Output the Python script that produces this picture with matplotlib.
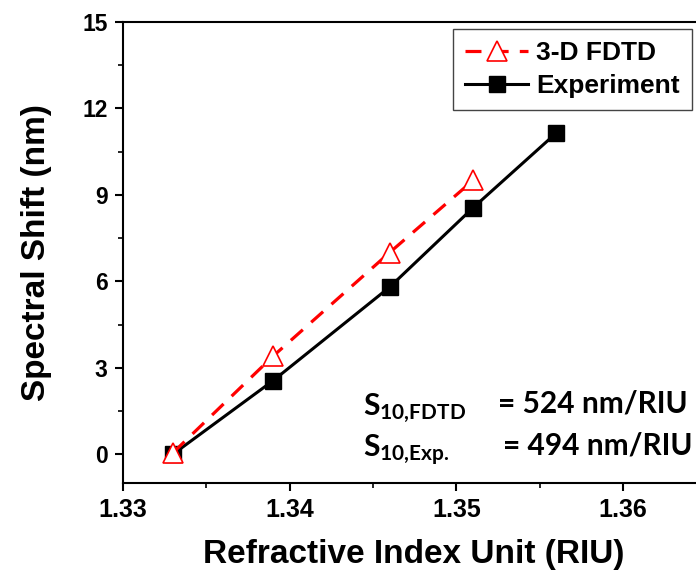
import matplotlib
matplotlib.use("Agg")
import matplotlib.pyplot as plt
from matplotlib.ticker import MultipleLocator

# refractive index of the analyte solutions
ri_exp = [1.333, 1.339, 1.346, 1.351, 1.356]
shift_exp = [0.0, 2.55, 5.8, 8.55, 11.15]

ri_fdtd = [1.333, 1.339, 1.346, 1.351]
shift_fdtd = [0.05, 3.4, 7.0, 9.5]

xticks = [1.33, 1.34, 1.35, 1.36]
yticks = [0, 3, 6, 9, 12, 15]

W, H = 696, 583
plt.rcParams['font.family'] = ['Liberation Sans', 'DejaVu Sans']
plt.rcParams['font.weight'] = 'bold'

fig = plt.figure(figsize=(W / 100, H / 100), dpi=100)
ax = fig.add_axes([123 / W, 1 - 483 / H, 1 - 123 / W, (483 - 22) / H])

l_exp, = ax.plot(ri_exp, shift_exp, color='black', lw=2.2, marker='s', ms=11.5,
                 mfc='black', mec='black', label='Experiment', zorder=3)
l_fdtd, = ax.plot(ri_fdtd, shift_fdtd, color='red', lw=2.3, dashes=(5, 3.5),
                  marker='^', ms=14, mfc='white', mec='red', mew=1.2,
                  label='3-D FDTD', zorder=4)

ax.set_xlim(1.33, 1.33 + (W - 123) / 16667)
ax.set_ylim(-1, 15)
ax.set_xticks(xticks)
ax.set_yticks(yticks)
ax.set_xticklabels(['%.2f' % v for v in xticks], fontsize=18, fontweight='bold')
ax.set_yticklabels([str(v) for v in yticks], fontsize=16.5, fontweight='bold')
ax.xaxis.set_minor_locator(MultipleLocator(0.005))
ax.yaxis.set_minor_locator(MultipleLocator(1.5))
ax.tick_params(which='major', direction='out', length=6, width=1.5, pad=5)
ax.tick_params(which='minor', direction='out', length=3.5, width=1.2)
ax.tick_params(top=False, right=False)
ax.spines['right'].set_visible(False)
for s in ['left', 'bottom', 'top']:
    ax.spines[s].set_linewidth(1.5)

fig.text(37 / W, 1 - 253 / H, 'Spectral Shift (nm)', rotation=90,
         ha='center', va='center', fontsize=24, fontweight='bold')
fig.text(414 / W, 1 - 555 / H, 'Refractive Index Unit (RIU)',
         ha='center', va='center', fontsize=24, fontweight='bold')

leg = ax.legend(handles=[l_fdtd, l_exp], loc='upper left',
                bbox_to_anchor=(453 / W, 1 - 29 / H), bbox_transform=fig.transFigure,
                borderaxespad=0, borderpad=0.45, handlelength=2.4, handletextpad=0.3,
                labelspacing=0.35, fancybox=False, framealpha=1,
                prop={'family': 'Liberation Sans', 'weight': 'bold', 'size': 19})
leg.get_frame().set_edgecolor('#444444')
leg.get_frame().set_linewidth(1.0)

# sensitivity annotation
afont = dict(family=['Lato', 'DejaVu Sans'], weight='bold', fontsize=21.5)
fig.text(363 / W, 1 - 415 / H, r'$\mathregular{S_{10{,}FDTD}}$', va='baseline', **afont)
fig.text(498 / W, 1 - 413 / H, '= 524 nm/RIU', va='baseline', **afont)
fig.text(363 / W, 1 - 457 / H, r'$\mathregular{S_{10{,}Exp.}}$', va='baseline', **afont)
fig.text(503 / W, 1 - 455 / H, '= 494 nm/RIU', va='baseline', **afont)

fig.savefig('out.png', dpi=100)
